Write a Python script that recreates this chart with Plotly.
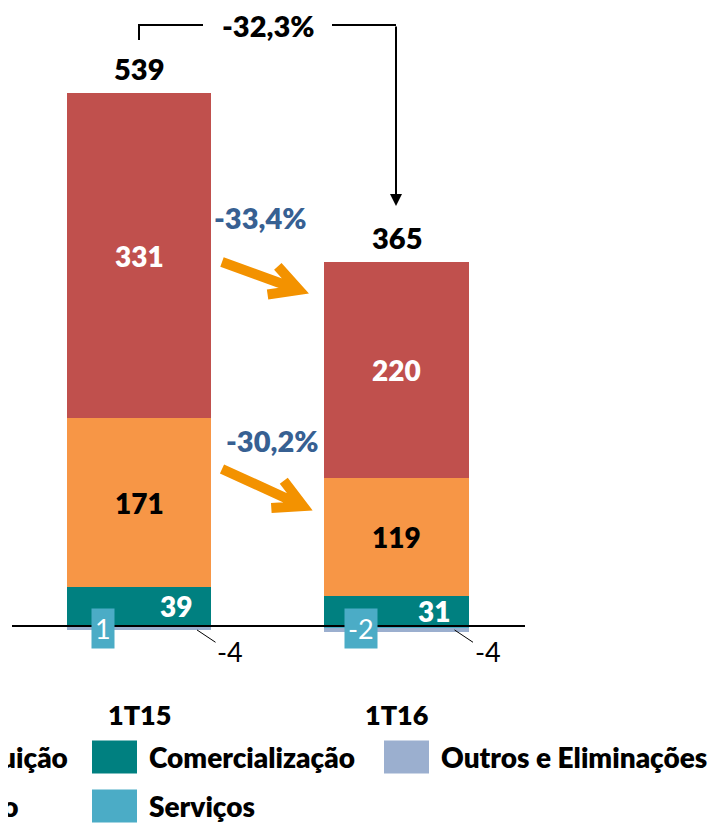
import plotly.graph_objects as go

W, H = 722, 824
OFF = 8  # the page body adds an 8px margin around the figure

quarters = ["1T15", "1T16"]
distribuicao = [331, 220]
geracao = [171, 119]
comercializacao = [39, 31]
servicos = [1, -2]
outros = [-4, -4]
totals = [539, 365]

var_total = "-32,3%"
var_distribuicao = "-33,4%"
var_geracao = "-30,2%"

names = ["Distribuição", "Geração", "Comercialização", "Serviços", "Outros e Eliminações"]
colors = ["#C0504D", "#F79646", "#008080", "#4BACC6", "#9BAFCF"]

FONT = "Lato"
BLUE = "#376092"
ORANGE = "#F39200"


def px(x):
    return (x - OFF) / W


def py(y):
    return 1 - (y - OFF) / H


def bold(size, color="black"):
    return dict(size=size, color=color, weight=800)


fig = go.Figure()

# stacking order from the zero line upwards / downwards
stack = [("Serviços", servicos), ("Comercialização", comercializacao),
         ("Geração", geracao), ("Distribuição", distribuicao),
         ("Outros e Eliminações", outros)]
for name, vals in stack:
    fig.add_trace(go.Bar(x=quarters, y=vals, name=name, width=0.563,
                         marker=dict(color=colors[names.index(name)], line_width=0),
                         showlegend=False, hoverinfo="skip"))

ann = []
for i, q in enumerate(quarters):
    base = max(servicos[i], 0)
    c_mid = base + comercializacao[i] / 2
    g_mid = base + comercializacao[i] + geracao[i] / 2
    d_mid = base + comercializacao[i] + geracao[i] + distribuicao[i] / 2
    top = base + comercializacao[i] + geracao[i] + distribuicao[i]
    ann.append(dict(x=q, y=d_mid, text=str(distribuicao[i]), showarrow=False,
                    font=bold(28, "white")))
    ann.append(dict(x=q, y=g_mid, text=str(geracao[i]), showarrow=False,
                    font=bold(28)))
    ann.append(dict(x=q, y=c_mid, text=str(comercializacao[i]), showarrow=False,
                    xshift=37, font=bold(28, "white")))
    ann.append(dict(x=q, y=0, text=str(servicos[i]), showarrow=False, xshift=-36, yshift=-2,
                    bgcolor=colors[3], borderpad=3, font=dict(color="white", size=27)))
    ann.append(dict(x=q, y=outros[i], text=str(outros[i]), showarrow=True, arrowhead=0,
                    arrowwidth=1, arrowcolor="black", xshift=58, ax=33, ay=22,
                    font=dict(color="black", size=27)))
    ann.append(dict(x=q, y=top, text=str(totals[i]), showarrow=False,
                    yanchor="bottom", yshift=5, font=bold(29)))
    ann.append(dict(x=q, y=py(714), yref="paper", text=q, showarrow=False,
                    yanchor="middle", font=bold(27)))

# total variation bracket
ann.append(dict(x=px(268), y=py(25), xref="paper", yref="paper", text=var_total,
                xanchor="center", yanchor="middle", showarrow=False, font=bold(29)))
ann.append(dict(x=px(396), y=py(206), xref="paper", yref="paper", text="",
                showarrow=True, arrowhead=2, arrowsize=1.2, arrowwidth=2, arrowcolor="black",
                ax=0, ay=-181))
# segment variations
ann.append(dict(x=px(260), y=py(217), xref="paper", yref="paper", text=var_distribuicao,
                xanchor="center", yanchor="middle", showarrow=False, font=bold(29, BLUE)))
ann.append(dict(x=px(272), y=py(440), xref="paper", yref="paper", text=var_geracao,
                xanchor="center", yanchor="middle", showarrow=False, font=bold(29, BLUE)))

shapes = [
    dict(type="line", xref="paper", yref="y", x0=px(12), x1=px(525), y0=0, y1=0,
         line=dict(color="black", width=2)),
    dict(type="path", xref="paper", yref="paper",
         path=f"M{px(139)},{py(40)} L{px(139)},{py(25)} L{px(203)},{py(25)} "
              f"M{px(332)},{py(25)} L{px(396)},{py(25)}",
         line=dict(color="black", width=2)),
]
for (x0, y0, x1, y1) in [(222, 262, 299, 290), (222, 469, 303, 506)]:
    # arrow shaft and chevron head
    dx, dy = x1 - x0, y1 - y0
    L = (dx ** 2 + dy ** 2) ** 0.5
    ux, uy = dx / L, dy / L
    hx1, hy1 = x1 - 28 * ux - 15 * uy, y1 - 28 * uy + 15 * ux
    hx2, hy2 = x1 - 28 * ux + 15 * uy, y1 - 28 * uy - 15 * ux
    shapes.append(dict(type="path", xref="paper", yref="paper",
                       path=f"M{px(x0)},{py(y0)} L{px(x1)},{py(y1)} "
                            f"M{px(hx1)},{py(hy1)} L{px(x1)},{py(y1)} L{px(hx2)},{py(hy2)}",
                       line=dict(color=ORANGE, width=10)))

# legend drawn by hand (clipped on the left, as in the source)
legend_items = [("Distribuição", -185, 757), ("Comercialização", 92, 757),
                ("Outros e Eliminações", 384, 757), ("Geração", -185, 806),
                ("Serviços", 92, 806)]
for name, lx, ly in legend_items:
    shapes.append(dict(type="rect", xref="paper", yref="paper", x0=px(lx), x1=px(lx + 45),
                       y0=py(ly - 16.5), y1=py(ly + 16.5), fillcolor=colors[names.index(name)],
                       line_width=0))
    if name in ("Distribuição", "Geração"):
        right = 70 if name == "Distribuição" else 21
        ann.append(dict(x=px(right), y=py(ly), xref="paper", yref="paper", xanchor="right",
                        yanchor="middle", text=name, showarrow=False, font=bold(28)))
    else:
        ann.append(dict(x=px(lx + 55), y=py(ly), xref="paper", yref="paper", xanchor="left",
                        yanchor="middle", text=name, showarrow=False, font=bold(28)))

fig.update_layout(
    width=W, height=H, margin=dict(l=0, r=0, t=0, b=0),
    barmode="relative", bargap=0,
    plot_bgcolor="white", paper_bgcolor="white",
    font=dict(family=FONT, color="black"),
    xaxis=dict(type="category", range=[-(139 - OFF) / 257.5, -(139 - OFF) / 257.5 + W / 257.5],
               visible=False),
    yaxis=dict(range=[-(H - 626 + OFF) / 0.984, (626 - OFF) / 0.984], visible=False),
    annotations=ann, shapes=shapes,
)

fig.write_html("out.html")
